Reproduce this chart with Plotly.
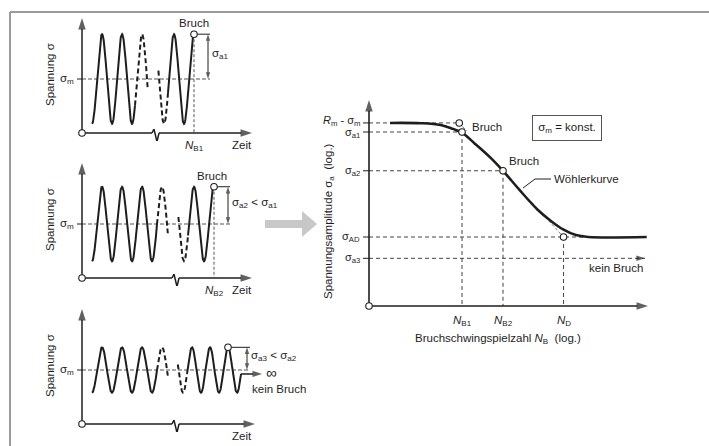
import numpy as np
import plotly.graph_objects as go

W, H = 709, 446
INK = "#1e1e1e"
FONT = "Liberation Sans, Arial, Helvetica, sans-serif"
FS = 11.5

# ======================= DATA =======================
# Left: three stress-time schematics (relative stress, sigma_m = 1; time in load cycles)
SIGMA_M = 1.0
SIGMA_A = [0.83, 0.69, 0.42]            # sigma_a1, sigma_a2, sigma_a3
A_START = [0.5, 0.5, 0.5]               # first block of cycles (before the break)
A_PEAK = [1.0, 1.0, 1.0]
A_PERIOD = [1.0, 1.0, 1.0]
A_DASH_FROM = [2.65, 3.75, 3.75]
A_END = [3.28, 4.29, 4.29]
B_START = [3.82, 4.82, 4.79]            # second block of cycles (after the break)
B_PEAK = [5.6, 6.6, 7.3]
B_PERIOD = [1.0, 1.0, 0.9]
B_DASH_TO = [4.3, 5.3, 5.25]
B_END = [5.6, 6.6, 7.95]
LAST_PEAK_T = [5.6, 6.6, 7.3]
FRACTURE = [True, True, False]
N_TEXT = ["<i>N</i><sub>B1</sub>", "<i>N</i><sub>B2</sub>", ""]
AMP_TEXT = ["σ<sub>a1</sub>", "σ<sub>a2</sub> < σ<sub>a1</sub>", "σ<sub>a3</sub> < σ<sub>a2</sub>"]
TIME_AXIS_END = [8.5, 8.5, 8.65]
BREAK_AT = [3.5, 4.5, 4.5]
LEVEL_END_T = [6.4, 7.4, 8.4]
AMP_ARROW_T = [6.3, 7.3, 8.25]
RUNOUT_END_T = 9.0

# Right: Woehler diagram (N in cycles, sigma_a in MPa, both logarithmic)
N_MARKS = [1e4, 1e5, 3e6]
N_MARK_TEXT = ["<i>N</i><sub>B1</sub>", "<i>N</i><sub>B2</sub>", "<i>N</i><sub>D</sub>"]
S_MARKS = [330, 300, 200, 100, 80]
S_MARK_TEXT = ["<i>R</i><sub>m</sub> - σ<sub>m</sub>", "σ<sub>a1</sub>", "σ<sub>a2</sub>",
               "σ<sub>AD</sub>", "σ<sub>a3</sub>"]
S_MARK_END_N = [8570, 1e4, 1e5, 9e6, 2.9e8]
WOEHLER_N = [175, 1000, 3000, 6000, 1e4, 2e4, 5e4, 1e5, 2.5e5, 7e5, 1.5e6, 3e6, 6e6, 1.2e7, 3.2e8]
WOEHLER_S = [330, 329, 323, 310, 298, 267, 229, 200, 164, 133, 118, 108, 102, 100, 100]
BASQUIN_N = [[8570, 1.3e4], [5e5, 3e6]]
BASQUIN_S = [[330, 303], [144, 100]]
POINT_N = [8570, 1e4, 1e5, 3e6]
POINT_S = [330, 300, 200, 100]

# ======================= GEOMETRY (layout) =======================
SP_X0, SP_PX_T = 82, 20.0               # small panels: px of t=0, px per cycle
SP_PX_S = 54.0                           # px per relative stress unit
SP_ORIGIN_PY = [133, 278, 424]
SP_TR = [-2.0, 9.6]
SP_SR = [-0.15, 2.25]
SP_YTIP = 2.13

M_REF_X, M_PPD_X = 462, 41.0             # main: px of N=1e4, px per decade
M_REF_Y, M_PPD_Y = 237, 220.0            # main: px of sigma=100, px per decade
M_DOM_X = (355, 665)
M_DOM_Y = (90, 315)


def n_at(px):
    return 10 ** (4 + (px - M_REF_X) / M_PPD_X)


def s_at(py):
    return 10 ** (2 + (M_REF_Y - py) / M_PPD_Y)


N0, S0 = n_at(369), s_at(306)
NTIP, STIP = n_at(648), s_at(100)

fig = go.Figure()
layout = {}
for i in range(3):
    k = "" if i == 0 else str(i + 1)
    px0 = SP_X0 + SP_TR[0] * SP_PX_T
    px1 = SP_X0 + SP_TR[1] * SP_PX_T
    pyb = SP_ORIGIN_PY[i] - SP_SR[0] * SP_PX_S
    pyt = SP_ORIGIN_PY[i] - SP_SR[1] * SP_PX_S
    layout["xaxis" + k] = dict(domain=[px0 / W, px1 / W], range=SP_TR, visible=False,
                               fixedrange=True, anchor="y" + k)
    layout["yaxis" + k] = dict(domain=[1 - pyb / H, 1 - pyt / H], range=SP_SR, visible=False,
                               fixedrange=True, anchor="x" + k)
layout["xaxis4"] = dict(type="log", domain=[M_DOM_X[0] / W, M_DOM_X[1] / W],
                        range=[4 + (M_DOM_X[0] - M_REF_X) / M_PPD_X, 4 + (M_DOM_X[1] - M_REF_X) / M_PPD_X],
                        visible=False, fixedrange=True, anchor="y4")
layout["yaxis4"] = dict(type="log", domain=[1 - M_DOM_Y[1] / H, 1 - M_DOM_Y[0] / H],
                        range=[2 + (M_REF_Y - M_DOM_Y[1]) / M_PPD_Y, 2 + (M_REF_Y - M_DOM_Y[0]) / M_PPD_Y],
                        visible=False, fixedrange=True, anchor="x4")


def ax_names(i):
    return ("x", "y") if i == 0 else ("x" + str(i + 1), "y" + str(i + 1))


def line(xs, ys, i, width=1.5, dash=None, color=INK, shape="linear"):
    xa, ya = ax_names(i)
    fig.add_trace(go.Scatter(x=list(xs), y=list(ys), mode="lines", xaxis=xa, yaxis=ya,
                             line=dict(color=color, width=width, dash=dash, shape=shape, smoothing=1.0),
                             hoverinfo="skip", showlegend=False))


def arrow(xs, ys, i, width=1.5, size=12, dash=None):
    xa, ya = ax_names(i)
    n = len(xs)
    fig.add_trace(go.Scatter(x=list(xs), y=list(ys), mode="lines+markers", xaxis=xa, yaxis=ya,
                             line=dict(color=INK, width=width, dash=dash),
                             marker=dict(symbol=["circle"] * (n - 1) + ["arrow"],
                                         size=[0] * (n - 1) + [size], angleref="previous",
                                         color=INK, line=dict(width=0)),
                             hoverinfo="skip", showlegend=False))


def circles(xs, ys, i, size=6.5):
    xa, ya = ax_names(i)
    fig.add_trace(go.Scatter(x=list(xs), y=list(ys), mode="markers", xaxis=xa, yaxis=ya,
                             marker=dict(symbol="circle", size=size, color="white",
                                         line=dict(color=INK, width=1.1)),
                             hoverinfo="skip", showlegend=False))


def text(x, y, s, xref, yref, xanchor="center", yanchor="middle", xshift=0, yshift=0,
         size=FS, angle=0):
    fig.add_annotation(x=x, y=y, xref=xref, yref=yref, text=s, showarrow=False,
                       xanchor=xanchor, yanchor=yanchor, xshift=xshift, yshift=yshift,
                       textangle=angle, font=dict(size=size, family=FONT, color=INK))


def wave(t0, t1, tp, period, amp):
    t = np.linspace(t0, t1, max(int((t1 - t0) * 80), 4))
    return t, SIGMA_M + amp * np.cos(2 * np.pi * (t - tp) / period)


# ======================= LEFT PANELS =======================
BRK_DT = [0.0, 0.1, 0.25, 0.35]
BRK_DS = [0.0, 0.07, -0.16, 0.0]
for i in range(3):
    xa, ya = ax_names(i)
    amp = SIGMA_A[i]
    top = SIGMA_M + amp
    # mean stress level
    line([0, LEVEL_END_T[i]], [SIGMA_M, SIGMA_M], i, width=1, dash="4px,2px", color="#555555")
    line([-0.25, 0], [SIGMA_M, SIGMA_M], i, width=1)
    # axes
    arrow([0, 0], [0, SP_YTIP], i, width=1.5, size=12)
    tb = BREAK_AT[i]
    arrow([0] + [tb + d for d in BRK_DT] + [TIME_AXIS_END[i]],
          [0] + BRK_DS + [0], i, width=1.5, size=12)
    # wave blocks
    t, s = wave(A_START[i], A_DASH_FROM[i], A_PEAK[i], A_PERIOD[i], amp)
    line(t, s, i, width=2)
    t, s = wave(A_DASH_FROM[i], A_END[i], A_PEAK[i], A_PERIOD[i], amp)
    line(t, s, i, width=2, dash="5px,3px")
    t, s = wave(B_START[i], B_DASH_TO[i], B_PEAK[i], B_PERIOD[i], amp)
    line(t, s, i, width=2, dash="5px,3px")
    t, s = wave(B_DASH_TO[i], B_END[i], B_PEAK[i], B_PERIOD[i], amp)
    line(t, s, i, width=2)
    tf = LAST_PEAK_T[i]
    # amplitude marking
    line([tf, LEVEL_END_T[i]], [top, top], i, width=1)
    mid = SIGMA_M + amp / 2
    arrow([AMP_ARROW_T[i], AMP_ARROW_T[i]], [mid, top], i, width=1, size=7)
    arrow([AMP_ARROW_T[i], AMP_ARROW_T[i]], [mid, SIGMA_M], i, width=1, size=7)
    text(AMP_ARROW_T[i] + 0.12, mid + 0.05, AMP_TEXT[i], xa, ya, xanchor="left")
    if FRACTURE[i]:
        line([tf, tf], [top, 0], i, width=1, dash="3px,2px", color="#555555")
        text(tf, top, "Bruch", xa, ya, yanchor="bottom", yshift=3, xshift=-2 * i)
        text(tf, 0, N_TEXT[i], xa, ya, yanchor="top", yshift=-4)
    else:
        tend = B_END[i]
        send = SIGMA_M + amp * np.cos(2 * np.pi * (tend - B_PEAK[i]) / B_PERIOD[i])
        arrow([tend, RUNOUT_END_T], [send, send], i, width=1.5, size=10)
        text(RUNOUT_END_T + 0.1, send, "∞", xa, ya, xanchor="left", size=15, yshift=1)
        text(LEVEL_END_T[i], SIGMA_M - 0.35, "kein Bruch", xa, ya, xanchor="left")
    circles([0, tf], [0, top], i)
    text(8.0, 0, "Zeit", xa, ya, yanchor="top", yshift=-4)
    text(-0.3, SIGMA_M, "σ<sub>m</sub>", xa, ya, xanchor="right")
    text(-1.6, SIGMA_M, "Spannung σ", xa, ya, angle=-90, yshift=4)

# ======================= MAIN PANEL =======================
L = np.log10
for s, nend in zip(S_MARKS, S_MARK_END_N):
    line([N0, nend], [s, s], 3, width=1, dash="4px,3px", color="#444444")
for n, s in zip(N_MARKS, [300, 200, 100]):
    line([n, n], [s, S0], 3, width=1, dash="4px,3px", color="#444444")
# sigma_a3 runout arrow head
arrow([S_MARK_END_N[4] / 1.6, S_MARK_END_N[4]], [S_MARKS[4], S_MARKS[4]], 3, width=1, size=9)
# Basquin tangent (dashed thin)
for bn, bs in zip(BASQUIN_N, BASQUIN_S):
    line(bn, bs, 3, width=0.8, dash="3px,2px", color="#555555")
# Woehler curve
line(WOEHLER_N, WOEHLER_S, 3, width=2.6, shape="spline")
# leader for label
line([n_at(523), n_at(535), n_at(551)], [s_at(188), s_at(179), s_at(179)], 3, width=1)
# ticks
for s in S_MARKS:
    line([n_at(363), N0], [s, s], 3, width=1)
# axes
arrow([N0, N0], [S0, STIP], 3, width=1.6, size=12)
arrow([N0, NTIP], [S0, S0], 3, width=1.6, size=12)
circles([N0] + POINT_N, [S0] + POINT_S, 3)

LABEL_DY = [2, -1, 0, 0, 0]
for s, lab, dy in zip(S_MARKS, S_MARK_TEXT, LABEL_DY):
    text(L(N0), L(s), lab, "x4", "y4", xanchor="right", xshift=-7, yshift=dy, size=11)
for n, lab in zip(N_MARKS, N_MARK_TEXT):
    text(L(n), L(S0), lab, "x4", "y4", yanchor="top", yshift=-6)
text(L(POINT_N[1]), L(POINT_S[1]), "Bruch", "x4", "y4", xanchor="left", xshift=8, yshift=5)
text(L(POINT_N[2]), L(POINT_S[2]), "Bruch", "x4", "y4", xanchor="left", xshift=4, yshift=10)
text(L(n_at(552)), L(s_at(179)), "Wöhlerkurve", "x4", "y4", xanchor="left")
text(L(n_at(587)), L(s_at(268)), "kein Bruch", "x4", "y4", xanchor="left")
text(329 / W, 1 - 221 / H, "Spannungsamplitude σ<sub>a</sub>  (log.)", "paper", "paper", angle=-90)
text(498 / W, 1 - 339 / H, "Bruchschwingspielzahl <i>N</i><sub>B</sub>  (log.)", "paper", "paper")
fig.add_annotation(x=602 / W, y=1 - 115 / H, xref="paper", yref="paper",
                   text="σ<sub>m</sub> = konst.", showarrow=False, width=60, height=16,
                   borderpad=4, bordercolor="#555555", borderwidth=1, bgcolor="white",
                   font=dict(size=FS, family=FONT, color=INK))


# ======================= DECORATION =======================
def P(px, py):
    return f"{px / W:.5f},{1 - py / H:.5f}"


shapes = [
    dict(type="line", xref="paper", yref="paper", x0=10 / W, x1=10 / W, y0=0, y1=1 - 12 / H,
         line=dict(color="#9a9a9a", width=2)),
    dict(type="line", xref="paper", yref="paper", x0=10 / W, x1=1, y0=1 - 12 / H, y1=1 - 12 / H,
         line=dict(color="#9a9a9a", width=2)),
    dict(type="path", xref="paper", yref="paper",
         path="M" + " L".join([P(265, 220), P(302, 220), P(302, 211), P(317, 224),
                               P(302, 237), P(302, 228), P(265, 228)]) + " Z",
         fillcolor="#c8c8c8", line=dict(width=0)),
]

fig.update_layout(width=W, height=H, margin=dict(l=0, r=0, t=0, b=0),
                  paper_bgcolor="white", plot_bgcolor="white", showlegend=False,
                  font=dict(family=FONT, size=FS, color=INK), shapes=shapes, **layout)
fig.write_html("out.html", config={"displayModeBar": False})
